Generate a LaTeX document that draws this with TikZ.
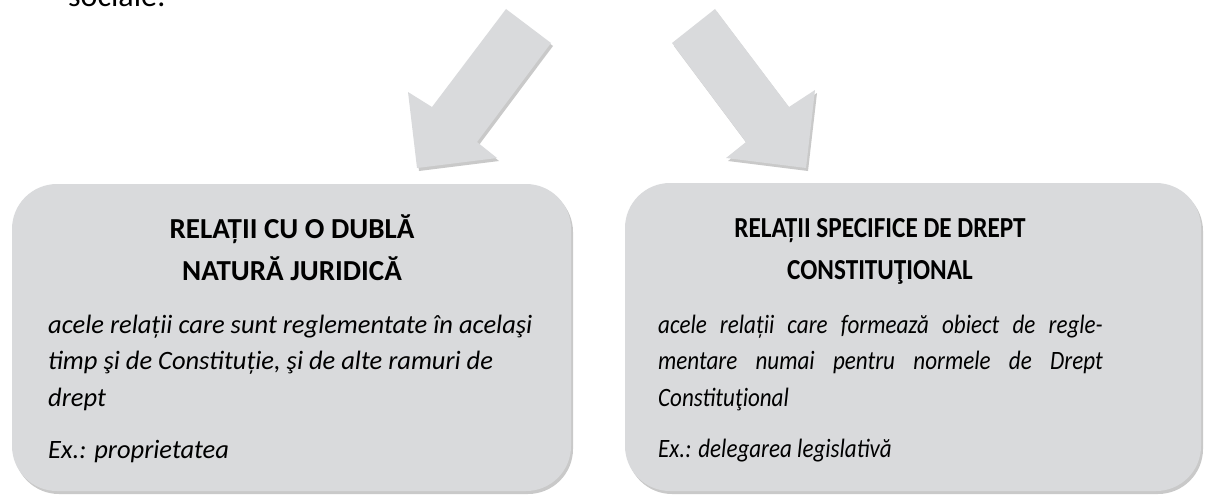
\documentclass[tikz,border=0pt]{standalone}
\usepackage{fontspec}
\setmainfont{Carlito}
\usetikzlibrary{shadows}

\definecolor{relGray}{RGB}{217,218,220}

\tikzset{
	relBox/.style={rectangle, fill=relGray, rounded corners=45pt, drop shadow={shadow xshift=2pt, shadow yshift=-3pt, opacity=0.3, fill=black!70}},
	relArrow/.style={fill=relGray, drop shadow={shadow xshift=2pt, shadow yshift=-3pt, opacity=0.3, fill=black!70}},
	relTitle/.style={font=\bfseries\fontsize{29}{42}\selectfont, anchor=base, inner sep=0pt},
	relBody/.style={font=\itshape\fontsize{26.5}{36.5}\selectfont, anchor=base west, inner sep=0pt}
}

% the right box text is set narrower
\newcommand{\narrowtext}[1]{\scalebox{0.87}[1]{#1}}

\begin{document}
\begin{tikzpicture}[x=1pt, y=-1pt]
	\useasboundingbox (0,0) rectangle (1212,495);
	\clip (0,0) rectangle (1212,495);

	\node[font=\fontsize{32}{38}\selectfont, anchor=base west, inner sep=0pt](socialeText) at (68,7){sociale:};

	% the two block arrows
	\fill[relArrow] (506,9) -- (551,43) -- (477,142) -- (497,158) -- (417,168) -- (408,92) -- (432,107) -- cycle;
	\fill[relArrow] (715,9) -- (672,43) -- (746,142) -- (726,158) -- (806,168) -- (815,90) -- (789,107) -- cycle;

	% left box
	\node[relBox, minimum width=559pt, minimum height=307pt](dublaBox) at (291.5,337.5){};
	\node[relTitle](dublaTitle) at (292,238){\parbox[t]{520pt}{\centering RELAȚII CU O DUBLĂ\\ NATURĂ JURIDICĂ}};
	\node[relBody](dublaText) at (48,333){\parbox[t]{500pt}{\raggedright acele relații care sunt reglementate în acelaşi\\ timp şi de Constituție, şi de alte ramuri de\\ drept}};
	\node[relBody](dublaEx) at (48,458){Ex.: proprietatea};

	% right box
	\node[relBox, minimum width=576pt, minimum height=308pt](specBox) at (913,337){};
	\node[relTitle](specTitle) at (880,237){\narrowtext{\parbox[t]{520pt}{\centering RELAȚII SPECIFICE DE DREPT\\ CONSTITUŢIONAL}}};
	\node[relBody](specText) at (658,333){\narrowtext{\parbox[t]{511pt}{\makebox[\linewidth][s]{acele relații care formează obiect de regle-}\\ \makebox[\linewidth][s]{mentare numai pentru normele de Drept}\\ Constituţional}}};
	\node[relBody](specEx) at (658,457){\narrowtext{Ex.: delegarea legislativă}};

\end{tikzpicture}
\end{document}
